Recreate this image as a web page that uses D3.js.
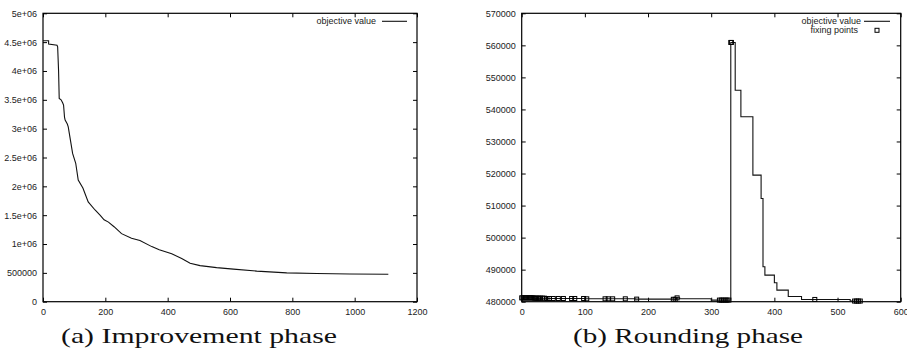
<!DOCTYPE html>
<html>
<head>
<meta charset="utf-8">
<script src="https://cdn.jsdelivr.net/npm/d3@7"></script>
<style>
  body { margin: 0; background: #fff; }
  svg { display: block; }
</style>
</head>
<body>
<div id="chart"></div>
<script>
// (a) improvement phase: iteration vs objective value
const improveIter = [0, 18, 18, 45, 47, 50, 52, 58, 63, 66, 69, 71, 78, 81, 88, 95, 105, 113, 128, 145, 167, 183, 196, 210, 228, 252, 284, 311, 349, 373, 413, 445, 472, 504, 557, 611, 686, 782, 878, 985, 1108];
const improveObj = [4525000, 4525000, 4468000, 4445000, 4420000, 4000000, 3525000, 3500000, 3450000, 3410000, 3200000, 3150000, 3080000, 3030000, 2800000, 2570000, 2400000, 2110000, 1970000, 1730000, 1590000, 1500000, 1420000, 1380000, 1300000, 1180000, 1100000, 1060000, 955000, 900000, 830000, 750000, 665000, 625000, 590000, 565000, 530000, 500000, 490000, 480000, 475000];

// (b) rounding phase: step series
const roundIter = [0, 20, 40, 100, 180, 240, 245, 250, 300, 331, 338, 347, 366, 379, 382, 385, 400, 404, 422, 443, 520, 538];
const roundObj = [481200, 481100, 481000, 480900, 480800, 480750, 481200, 480900, 480500, 560900, 546000, 537700, 519500, 512200, 490900, 488300, 485900, 483600, 481600, 480700, 480200, 480200];

// iterations where variables were fixed
const fixIter = [0, 2, 4, 6, 8, 10, 12, 14, 16, 18, 20, 22, 24, 26, 28, 30, 33, 36, 40, 44, 50, 58, 66, 79, 84, 98, 103, 132, 137, 144, 164, 182, 240, 243, 246, 313, 316, 319, 322, 325, 328, 331, 332, 464, 527, 530, 533, 536];

const xTicksA = [0, 200, 400, 600, 800, 1000, 1200];
const yTicksA = [0, 500000, 1000000, 1500000, 2000000, 2500000, 3000000, 3500000, 4000000, 4500000, 5000000];
const yLabelsA = ["0", "500000", "1e+06", "1.5e+06", "2e+06", "2.5e+06", "3e+06", "3.5e+06", "4e+06", "4.5e+06", "5e+06"];
const xTicksB = [0, 100, 200, 300, 400, 500, 600];
const yTicksB = [480000, 490000, 500000, 510000, 520000, 530000, 540000, 550000, 560000, 570000];

const captions = ["(a) Improvement phase", "(b) Rounding phase"];

const W = 907, H = 351;
const plotTop = 13.3, plotBottom = 301.7;

const svg = d3.select("#chart").append("svg")
    .attr("width", W)
    .attr("height", H)
    .style("font-family", "'Liberation Sans', Arial, sans-serif");

svg.append("rect").attr("width", W).attr("height", H).attr("fill", "#fff");

function drawAxes(g, x, y, xTicks, yTicks, yFmt) {
  const x0 = x.range()[0], x1 = x.range()[1];
  const y0 = y.range()[0], y1 = y.range()[1];

  g.append("g").attr("transform", "translate(0," + y0 + ")")
    .call(d3.axisBottom(x).tickValues(xTicks).tickSize(-4).tickPadding(7).tickFormat(d3.format("d")));
  g.append("g").attr("transform", "translate(0," + y1 + ")")
    .call(d3.axisTop(x).tickValues(xTicks).tickSize(-4).tickFormat(""));
  g.append("g").attr("transform", "translate(" + x0 + ",0)")
    .call(d3.axisLeft(y).tickValues(yTicks).tickSize(-4).tickPadding(6).tickFormat(yFmt));
  g.append("g").attr("transform", "translate(" + x1 + ",0)")
    .call(d3.axisRight(y).tickValues(yTicks).tickSize(-4).tickFormat(""));

  g.selectAll(".domain").remove();
  g.selectAll(".tick line").attr("stroke", "#000");
  g.selectAll(".tick text").attr("fill", "#222").style("font-size", "9px");

  g.append("rect")
    .attr("x", x0).attr("y", y1)
    .attr("width", x1 - x0).attr("height", y0 - y1)
    .attr("fill", "none").attr("stroke", "#000").attr("stroke-width", 1.2);
}

// ---- panel (a)
const xa = d3.scaleLinear().domain([0, 1200]).range([43, 417]);
const ya = d3.scaleLinear().domain([0, 5000000]).range([plotBottom, plotTop]);
const ga = svg.append("g");
drawAxes(ga, xa, ya, xTicksA, yTicksA, (d, i) => yLabelsA[i]);

const lineA = d3.line()
    .x((d, i) => xa(improveIter[i]))
    .y(d => ya(d));
ga.append("path")
    .attr("d", lineA(improveObj))
    .attr("fill", "none")
    .attr("stroke", "#111")
    .attr("stroke-width", 1.1);

// legend a
ga.append("text").attr("x", 376).attr("y", 21.3).attr("dy", "0.35em")
    .attr("text-anchor", "end").style("font-size", "9px").attr("fill", "#222")
    .text("objective value");
ga.append("line").attr("x1", 382).attr("x2", 407).attr("y1", 21.3).attr("y2", 21.3)
    .attr("stroke", "#111").attr("stroke-width", 1.1);

// ---- panel (b)
const xb = d3.scaleLinear().domain([0, 600]).range([521.7, 900.7]);
const yb = d3.scaleLinear().domain([480000, 570000]).range([plotBottom, plotTop]);
const gb = svg.append("g");
drawAxes(gb, xb, yb, xTicksB, yTicksB, d3.format("d"));

const lineB = d3.line()
    .x((d, i) => xb(roundIter[i]))
    .y(d => yb(d))
    .curve(d3.curveStepAfter);
gb.append("path")
    .attr("d", lineB(roundObj))
    .attr("fill", "none")
    .attr("stroke", "#111")
    .attr("stroke-width", 1.1);

// objective value at a fixing iteration (step lookup)
const bis = d3.bisector(d => d).right;
function objAt(it) {
  const i = Math.max(0, bis(roundIter, it) - 1);
  return roundObj[i];
}

gb.selectAll("rect.fix")
    .data(fixIter)
    .join("rect")
    .attr("class", "fix")
    .attr("x", d => xb(d) - 2)
    .attr("y", d => yb(objAt(d)) - 2)
    .attr("width", 4)
    .attr("height", 4)
    .attr("fill", "none")
    .attr("stroke", "#000")
    .attr("stroke-width", 1);

// legend b
gb.append("text").attr("x", 861).attr("y", 21.3).attr("dy", "0.35em")
    .attr("text-anchor", "end").style("font-size", "9px").attr("fill", "#222")
    .text("objective value");
gb.append("line").attr("x1", 864).attr("x2", 890).attr("y1", 21.3).attr("y2", 21.3)
    .attr("stroke", "#111").attr("stroke-width", 1.1);
gb.append("text").attr("x", 858).attr("y", 30.3).attr("dy", "0.35em")
    .attr("text-anchor", "end").style("font-size", "9px").attr("fill", "#222")
    .text("fixing points");
gb.append("rect").attr("x", 875).attr("y", 28.3).attr("width", 4).attr("height", 4)
    .attr("fill", "none").attr("stroke", "#000");

// captions
const capX = [[61, 337], [573, 803]];
svg.selectAll("text.cap")
    .data(captions)
    .join("text")
    .attr("class", "cap")
    .attr("x", (d, i) => capX[i][0])
    .attr("y", 343)
    .attr("textLength", (d, i) => capX[i][1] - capX[i][0])
    .attr("lengthAdjust", "spacingAndGlyphs")
    .style("font-family", "'Liberation Serif', 'DejaVu Serif', serif")
    .style("font-size", "22px")
    .attr("fill", "#111")
    .text(d => d);
</script>
</body>
</html>
